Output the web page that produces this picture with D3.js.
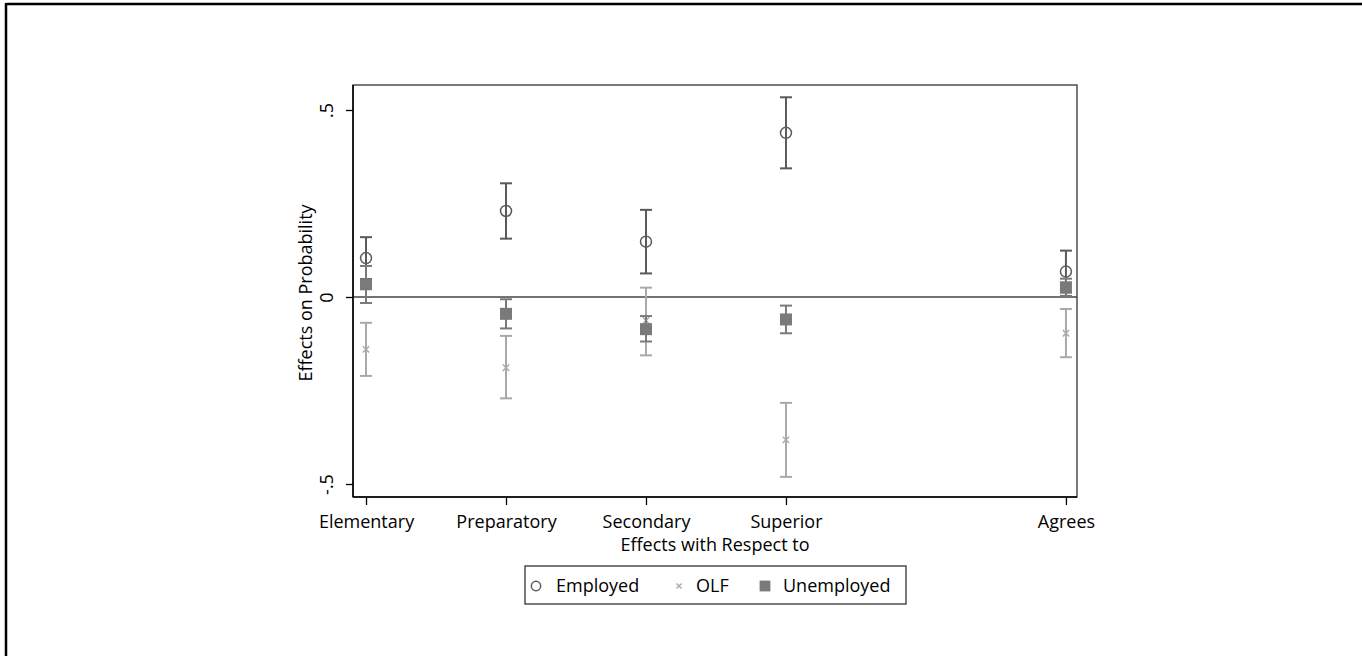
<!DOCTYPE html>
<html>
<head>
<meta charset="utf-8">
<script src="https://cdn.jsdelivr.net/npm/d3@7"></script>
<style>
  html, body { margin: 0; padding: 0; background: #fff; }
  svg { display: block; }
  text { font-family: "Open Sans", "Noto Sans", sans-serif; fill: #000; }
</style>
</head>
<body>
<svg id="chart" width="1362" height="656"></svg>
<script>
// ---- data ----
const categories = ["Elementary", "Preparatory", "Secondary", "Superior", "Agrees"];
const categoryPos = [1, 2, 3, 4, 6];
const seriesNames = ["Employed", "OLF", "Unemployed"];

const employedEst = [0.104, 0.230, 0.148, 0.439, 0.068];
const employedLo  = [0.048, 0.156, 0.063, 0.344, 0.012];
const employedHi  = [0.160, 0.304, 0.233, 0.534, 0.124];

const olfEst = [-0.140, -0.189, -0.063, -0.382, -0.097];
const olfLo  = [-0.211, -0.271, -0.156, -0.481, -0.161];
const olfHi  = [-0.069, -0.104, 0.025, -0.283, -0.032];

const unempEst = [0.034, -0.045, -0.086, -0.060, 0.026];
const unempLo  = [-0.016, -0.084, -0.119, -0.097, 0.003];
const unempHi  = [0.083, -0.006, -0.051, -0.023, 0.049];

const yTickValues = [-0.5, 0, 0.5];
const yTickLabels = ["-.5", "0", ".5"];
const xTitle = "Effects with Respect to";
const yTitle = "Effects on Probability";

// ---- layout ----
const svg = d3.select("#chart");
const plot = { left: 353, right: 1077, top: 85, bottom: 497 };
const FS = 18;

const x = d3.scaleLinear().domain([0.907, 6.079]).range([plot.left, plot.right]);
const y = d3.scaleLinear().domain([-0.5, 0.5]).range([484, 110]);

// outer frame (top + left edges)
svg.append("line").attr("x1", 6).attr("x2", 1362).attr("y1", 4).attr("y2", 4)
  .attr("stroke", "#000").attr("stroke-width", 2.5);
svg.append("line").attr("x1", 6).attr("x2", 6).attr("y1", 3).attr("y2", 656)
  .attr("stroke", "#000").attr("stroke-width", 2.5);

// plot box
svg.append("rect").attr("x", plot.left).attr("y", plot.top)
  .attr("width", plot.right - plot.left).attr("height", plot.bottom - plot.top)
  .attr("fill", "none").attr("stroke", "#333").attr("stroke-width", 1.3);

// zero line
svg.append("line").attr("x1", plot.left).attr("x2", plot.right)
  .attr("y1", y(0)).attr("y2", y(0)).attr("stroke", "#444").attr("stroke-width", 1.5);

// y axis
const yAxis = d3.axisLeft(y).tickValues(yTickValues).tickSize(7)
  .tickFormat((d, i) => yTickLabels[i]);
const gy = svg.append("g").attr("transform", `translate(${plot.left},0)`).call(yAxis);
gy.select(".domain").attr("stroke", "#000").attr("stroke-width", 1.5)
  .attr("d", `M0,${plot.top}V${plot.bottom}`);
gy.selectAll(".tick line").attr("stroke", "#000").attr("stroke-width", 1.3);
gy.selectAll(".tick text")
  .attr("font-size", FS).attr("font-family", "Open Sans")
  .attr("text-anchor", "middle")
  .attr("x", 0).attr("dy", 0)
  .attr("transform", "translate(-25,0) rotate(-90)")
  .attr("y", 0).attr("dominant-baseline", "middle");

// x axis
const xAxis = d3.axisBottom(x).tickValues(categoryPos).tickSize(8)
  .tickFormat((d, i) => categories[i]);
const gx = svg.append("g").attr("transform", `translate(0,${plot.bottom})`).call(xAxis);
gx.select(".domain").attr("stroke", "#000").attr("stroke-width", 1.5)
  .attr("d", `M${plot.left},0H${plot.right}`);
gx.selectAll(".tick line").attr("stroke", "#000").attr("stroke-width", 1.3);
gx.selectAll(".tick text").attr("font-size", FS).attr("font-family", "Open Sans")
  .attr("y", 18).attr("dy", "0.71em");

// axis titles
svg.append("text").attr("x", 715).attr("y", 551).attr("text-anchor", "middle")
  .attr("font-size", FS).text(xTitle);
svg.append("text").attr("transform", "translate(312,293) rotate(-90)")
  .attr("text-anchor", "middle").attr("font-size", FS).text(yTitle);

// series drawing
const series = [
  { name: "Employed", est: employedEst, lo: employedLo, hi: employedHi, color: "#5a5a5a", marker: "circle" },
  { name: "OLF", est: olfEst, lo: olfLo, hi: olfHi, color: "#a9a9a9", marker: "x" },
  { name: "Unemployed", est: unempEst, lo: unempLo, hi: unempHi, color: "#7a7a7a", marker: "square" }
];

const capW = 6;
function drawMarker(g, type, cx, cy, color, scale) {
  const s = scale || 1;
  if (type === "circle") {
    g.append("circle").attr("cx", cx).attr("cy", cy).attr("r", 5.5 * s)
      .attr("fill", "none").attr("stroke", color).attr("stroke-width", 1.5);
  } else if (type === "x") {
    const r = 3.2 * s;
    g.append("path").attr("d", `M${cx - r},${cy - r}L${cx + r},${cy + r}M${cx - r},${cy + r}L${cx + r},${cy - r}`)
      .attr("stroke", color).attr("stroke-width", 1.4).attr("fill", "none");
  } else {
    const h = 6 * s;
    g.append("rect").attr("x", cx - h).attr("y", cy - h).attr("width", 2 * h).attr("height", 2 * h)
      .attr("fill", color);
  }
}

const order = [series[1], series[0], series[2]];
order.forEach(s => {
  const g = svg.append("g");
  categoryPos.forEach((p, i) => {
    const cx = x(p);
    g.append("line").attr("x1", cx).attr("x2", cx).attr("y1", y(s.lo[i])).attr("y2", y(s.hi[i]))
      .attr("stroke", s.color).attr("stroke-width", 2);
    [s.lo[i], s.hi[i]].forEach(v => {
      g.append("line").attr("x1", cx - capW).attr("x2", cx + capW).attr("y1", y(v)).attr("y2", y(v))
        .attr("stroke", s.color).attr("stroke-width", 2);
    });
  });
  categoryPos.forEach((p, i) => drawMarker(g, s.marker, x(p), y(s.est[i]), s.color));
});

// legend
const leg = svg.append("g");
leg.append("rect").attr("x", 525).attr("y", 566).attr("width", 381).attr("height", 38)
  .attr("fill", "#fff").attr("stroke", "#333").attr("stroke-width", 1.3);
const legItems = [
  { s: series[0], mx: 536, tx: 556 },
  { s: series[1], mx: 679, tx: 696 },
  { s: series[2], mx: 765, tx: 783 }
];
legItems.forEach(it => {
  const mk = it.s.marker;
  drawMarker(leg, mk, it.mx, 586, it.s.color, mk === "circle" ? 0.85 : (mk === "square" ? 0.9 : 0.8));
  leg.append("text").attr("x", it.tx).attr("y", 586).attr("dy", "0.35em")
    .attr("font-size", FS).text(it.s.name);
});
</script>
</body>
</html>
